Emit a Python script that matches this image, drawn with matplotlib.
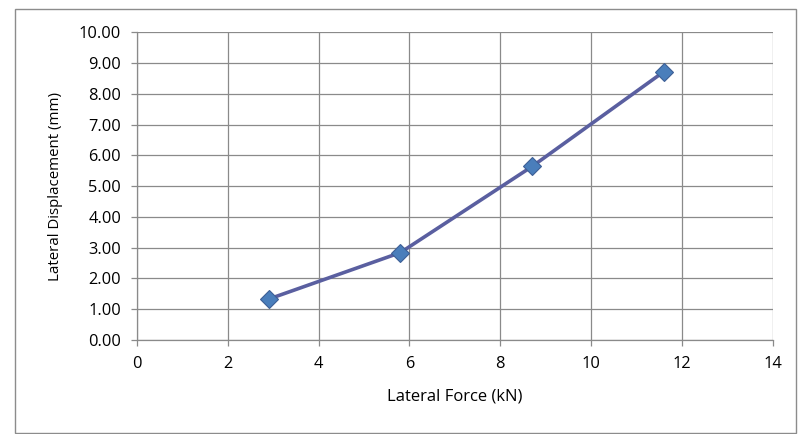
import matplotlib
matplotlib.use("Agg")
import matplotlib.pyplot as plt
from matplotlib.patches import Rectangle
from matplotlib.ticker import FormatStrFormatter

force_kn = [2.9, 5.8, 8.7, 11.6]
displacement_mm = [1.33, 2.84, 5.64, 8.72]
x_ticks = [0, 2, 4, 6, 8, 10, 12, 14]
y_ticks = [0, 1, 2, 3, 4, 5, 6, 7, 8, 9, 10]

plt.rcParams['font.family'] = ['Open Sans', 'DejaVu Sans']

W, H = 799, 434
fig = plt.figure(figsize=(W / 100, H / 100), dpi=100)
fig.patch.set_facecolor('white')

# outer chart frame
fig.add_artist(Rectangle((15 / W, 1 - 433 / H), (796 - 15) / W, (433 - 9) / H,
                         transform=fig.transFigure, fill=False,
                         edgecolor='#8c8c8c', linewidth=1.0))

ax = fig.add_axes([137 / W, 1 - 340 / H, (772.8 - 137) / W, (340 - 32.3) / H])
ax.set_xlim(0, 14)
ax.set_ylim(0, 10)
ax.set_xticks(x_ticks)
ax.set_yticks(y_ticks)
ax.yaxis.set_major_formatter(FormatStrFormatter('%.2f'))

ax.grid(True, color='#8a8a8a', linewidth=0.9)
ax.set_axisbelow(True)
for side in ['top', 'right']:
    ax.spines[side].set_visible(False)
for side in ['left', 'bottom']:
    ax.spines[side].set_color('#8a8a8a')
    ax.spines[side].set_linewidth(0.9)
ax.tick_params(axis='both', direction='out', length=4.5, width=0.9,
               color='#8a8a8a', labelsize=11.8, labelcolor='black')
ax.tick_params(axis='y', pad=7)
ax.tick_params(axis='x', pad=7)

ax.plot(force_kn, displacement_mm, color='#5a5fa0', linewidth=2.6,
        marker='D', markersize=9, markerfacecolor='#4a7ebb',
        markeredgecolor='#3d5f96', markeredgewidth=0.8, zorder=3,
        clip_on=False)

ax.set_xlabel('Lateral Force (kN)', fontsize=12, labelpad=12)
ax.set_ylabel('Lateral Displacement (mm)', fontsize=10.8, labelpad=11)

fig.savefig('out.png', dpi=100)
